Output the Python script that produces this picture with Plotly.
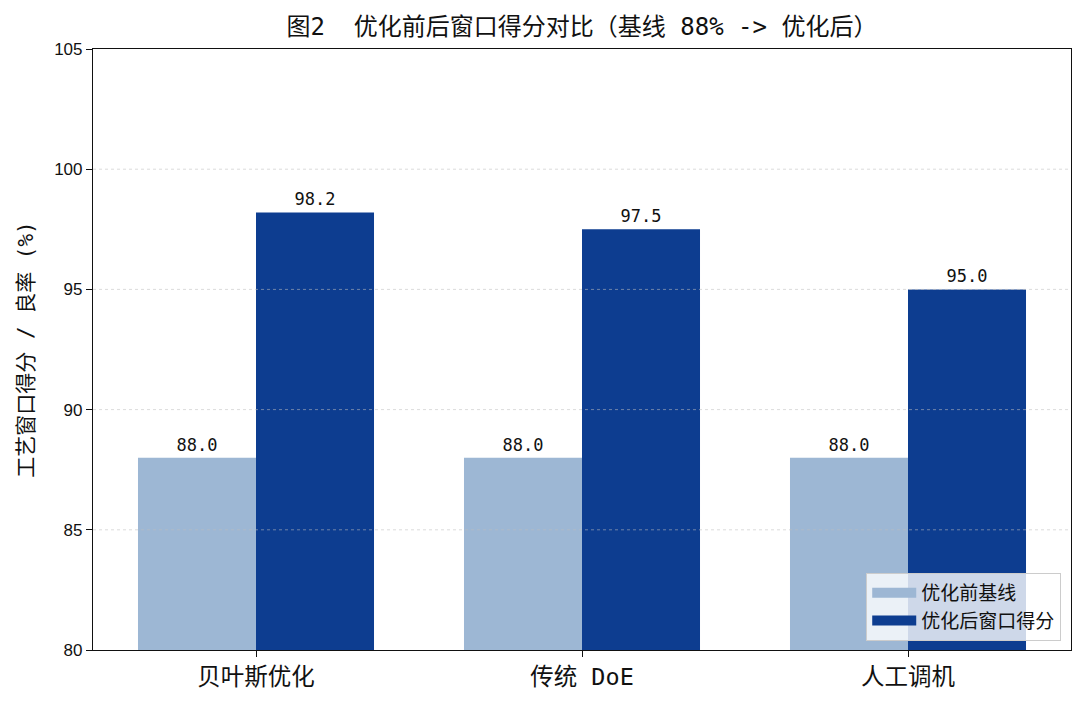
import plotly.graph_objects as go

categories = ["贝叶斯优化", "传统 DoE", "人工调机"]
baseline = [88.0, 88.0, 88.0]
optimized = [98.2, 97.5, 95.0]
y_ticks = [80, 85, 90, 95, 100, 105]

CJK = "DejaVu Sans Mono, Noto Sans CJK SC"
LIGHT = "#9db7d4"
DARK = "#0d3d90"
INK = "#111111"

fig = go.Figure()
fig.add_trace(go.Bar(
    x=categories, y=baseline, name="优化前基线", marker_color=LIGHT,
    marker_line_width=0, showlegend=False,
    text=[f"{v:.1f}" for v in baseline], textposition="outside",
    textfont=dict(family=CJK, size=17, color=INK), cliponaxis=False,
))
fig.add_trace(go.Bar(
    x=categories, y=optimized, name="优化后窗口得分", marker_color=DARK,
    marker_line_width=0, showlegend=False,
    text=[f"{v:.1f}" for v in optimized], textposition="outside",
    textfont=dict(family=CJK, size=17, color=INK), cliponaxis=False,
))

# legend-only entries with wide patches like matplotlib's
for name, col in [("优化前基线", LIGHT), ("优化后窗口得分", DARK)]:
    fig.add_trace(go.Scatter(x=[None], y=[None], mode="lines", name=name,
                             line=dict(color=col, width=12)))

# dotted grid drawn over the bars, like the original
for t in y_ticks[1:-1]:
    fig.add_shape(type="line", xref="paper", x0=0, x1=1, yref="y", y0=t, y1=t,
                  line=dict(color="rgba(190,190,190,0.55)", width=1, dash="dot"),
                  layer="above")

# page body has an 8px margin, so the figure is shrunk by that much
fig.update_layout(
    width=1077, height=694,
    paper_bgcolor="white", plot_bgcolor="white",
    margin=dict(l=85, r=14, t=41, b=52),
    barmode="group", bargap=0.276, bargroupgap=0,
    title=dict(text="图2  优化前后窗口得分对比（基线 88% -> 优化后）",
               xref="paper", x=0.5, xanchor="center", y=0.973, yanchor="middle",
               font=dict(family=CJK, size=24, color=INK)),
    legend=dict(x=0.99, y=0.015, xanchor="right", yanchor="bottom",
                bgcolor="rgba(255,255,255,0.8)", bordercolor="#cccccc", borderwidth=1,
                font=dict(family=CJK, size=19, color=INK), traceorder="normal",
                itemwidth=44),
    showlegend=True,
)
fig.update_xaxes(
    range=[-0.5, 2.5], showline=True, linecolor=INK, linewidth=1.2, mirror=True,
    ticks="outside", ticklen=6, tickcolor=INK, showgrid=False,
    tickfont=dict(family=CJK, size=23.5, color=INK),
)
fig.update_yaxes(
    range=[80, 105], tickvals=y_ticks, showline=True, linecolor=INK, linewidth=1.2,
    mirror=True, ticks="outside", ticklen=6, tickcolor=INK, showgrid=False,
    zeroline=False,
    tickfont=dict(family="Liberation Sans, Arial", size=17, color=INK),
    title=dict(text="工艺窗口得分 / 良率 (%)", font=dict(family=CJK, size=21, color=INK),
               standoff=14),
)

fig.write_html("out.html")
